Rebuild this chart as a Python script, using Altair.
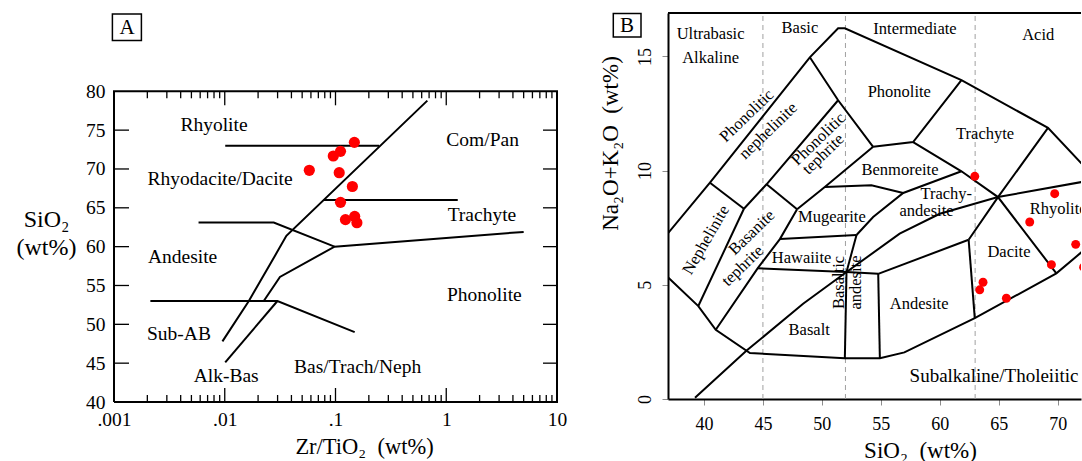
import altair as alt
import pandas as pd

FONT = "Liberation Serif"

# ------------------------------------------------------------------
# Panel A : SiO2 vs Zr/TiO2 (Winchester & Floyd)
# ------------------------------------------------------------------
A_X_TICKS = [0.001, 0.01, 0.1, 1, 10]
A_X_TICK_LABELS = [".001", ".01", ".1", "1", "10"]
A_Y_TICKS = [40, 45, 50, 55, 60, 65, 70, 75, 80]
A_Y_INNER_TICKS = [45, 50, 55, 60, 65, 70, 75]
A_X_MAJOR_INNER = [0.01, 0.1, 1]
A_X_MINOR = [m * 10 ** k for k in (-3, -2, -1, 0) for m in range(2, 10)]

A_PTS_ZR = [0.0580, 0.0955, 0.111, 0.148, 0.108, 0.142, 0.111, 0.123, 0.149, 0.156]
A_PTS_SIO2 = [69.83, 71.67, 72.27, 73.43, 69.52, 67.74, 65.70, 63.48, 63.90, 63.08]

A_MAIN_X = [0.00953, 0.0165, 0.0297, 0.036, 0.675]
A_MAIN_Y = [47.8, 53.0, 59.3, 61.4, 78.8]
A_ALKBAS_X = [0.0101, 0.0299]
A_ALKBAS_Y = [45.1, 53.0]
A_BAS53_X = [0.00213, 0.0299, 0.149]
A_BAS53_Y = [53.0, 53.0, 49.0]
A_TRANS_X = [0.0225, 0.0315, 0.098, 5.0]
A_TRANS_Y = [53.0, 56.1, 60.0, 61.9]
A_AND_X = [0.0058, 0.0277, 0.098]
A_AND_Y = [63.1, 63.1, 60.0]
A_TRACH_X = [0.0783, 1.27]
A_TRACH_Y = [66.0, 66.0]
A_RHY_X = [0.0101, 0.248]
A_RHY_Y = [73.0, 73.0]

A_LABELS = ["Rhyolite", "Rhyodacite/Dacite", "Com/Pan", "Trachyte", "Andesite",
            "Phonolite", "Sub-AB", "Alk-Bas", "Bas/Trach/Neph"]
A_LABEL_X = [0.0080, 0.00908, 2.13, 2.10, 0.00416, 2.21, 0.00386, 0.0103, 0.1585]
A_LABEL_Y = [75.67, 68.67, 73.69, 64.08, 58.67, 53.78, 48.8, 43.35, 44.5]

# ------------------------------------------------------------------
# Panel B : TAS diagram
# ------------------------------------------------------------------
B_X_TICKS = [40, 45, 50, 55, 60, 65, 70]
B_Y_TICKS = [0, 5, 10, 15]
B_DASH_X = [45, 52, 63]

B_PTS_SIO2 = [62.97, 69.75, 67.63, 71.53, 69.47, 72.2, 63.67, 63.39, 65.65]
B_PTS_ALK = [9.75, 8.99, 7.75, 6.77, 5.88, 5.77, 5.11, 4.78, 4.41]

B_OUT_TOP_X = [36.92, 40.51, 48.98, 51.38, 51.95, 61.84, 69.18, 72.03]
B_OUT_TOP_Y = [7.24, 9.47, 14.96, 16.23, 16.23, 13.96, 11.87, 10.31]
B_OUT_BOT_X = [36.92, 39.52, 41.0, 43.9, 51.95, 54.92, 57.0, 62.97, 69.89, 72.03]
B_OUT_BOT_Y = [5.34, 4.07, 3.03, 2.01, 1.78, 1.78, 2.04, 3.54, 5.50, 6.43]
B_NEPH_TOP_X = [40.51, 43.39]
B_NEPH_TOP_Y = [9.47, 8.33]
B_NEPH_BAS_X = [43.39, 39.52]
B_NEPH_BAS_Y = [8.33, 4.07]
B_PHN_PHT_X = [43.39, 45.31, 51.38]
B_PHN_PHT_Y = [8.33, 9.40, 13.08]
B_PHON_L_X = [48.98, 51.38, 54.35]
B_PHON_L_Y = [14.96, 13.08, 11.04]
B_BTEPH_TOP_X = [45.31, 47.9]
B_BTEPH_TOP_Y = [9.40, 8.31]
B_BAS_R_X = [47.9, 46.44, 44.55, 41.0]
B_BAS_R_Y = [8.31, 7.0, 5.72, 3.03]
B_MUG_L_X = [47.9, 50.25, 54.35]
B_MUG_L_Y = [8.31, 9.28, 11.04]
B_MUG_TOP_X = [50.25, 54.2, 56.9]
B_MUG_TOP_Y = [9.28, 9.36, 9.02]
B_HAW_TOP_X = [46.44, 52.94]
B_HAW_TOP_Y = [7.0, 7.18]
B_HAW_BOT_X = [44.55, 52.09, 54.78]
B_HAW_BOT_Y = [5.72, 5.56, 5.48]
B_MUG_R_X = [52.94, 52.09]
B_MUG_R_Y = [7.18, 5.56]
B_BAND_L_X = [52.09, 51.95]
B_BAND_L_Y = [5.56, 1.78]
B_AND_L_X = [54.78, 54.92]
B_AND_L_Y = [5.48, 1.78]
B_BENM_BOT_X = [52.94, 54.35, 56.9, 61.84]
B_BENM_BOT_Y = [7.18, 7.97, 9.02, 9.97]
B_TRACHY_BOT_X = [57.74, 61.84, 64.94, 69.89]
B_TRACHY_BOT_Y = [11.25, 9.97, 8.84, 5.50]
B_PHON_BOT_X = [54.35, 57.74, 61.84]
B_PHON_BOT_Y = [11.04, 11.25, 13.96]
B_DAC_TRA_X = [62.45, 64.94, 69.18]
B_DAC_TRA_Y = [6.97, 8.84, 11.87]
B_AND_TOP_X = [54.78, 62.45]
B_AND_TOP_Y = [5.48, 6.97]
B_DAC_L_X = [62.45, 62.97]
B_DAC_L_Y = [6.97, 3.54]
B_ALK_X = [39.24, 43.62, 48.41, 52.09, 56.6, 60.0, 64.94, 72.03]
B_ALK_Y = [0.05, 2.12, 4.17, 5.56, 7.24, 8.11, 8.84, 9.50]

B_LAB_H = ["Ultrabasic", "Alkaline", "Basic", "Intermediate", "Acid", "Phonolite",
           "Trachyte", "Benmoreite", "Trachy-", "andesite", "Mugearite", "Hawaiite",
           "Basalt", "Andesite", "Dacite"]
B_LAB_H_X = [40.56, 40.56, 48.14, 57.9, 68.35, 56.57, 63.85, 56.63, 60.55, 58.88,
             50.85, 48.28, 48.93, 58.25, 65.87]
B_LAB_H_Y = [15.96, 14.94, 16.24, 16.22, 15.94, 13.44, 11.62, 10.03, 8.98, 8.24,
             7.96, 6.19, 3.02, 4.17, 6.45]
B_LAB_LEFT = ["Rhyolite"]
B_LAB_LEFT_X = [67.63]
B_LAB_LEFT_Y = [8.33]
B_LAB_BIG = ["Subalkaline/Tholeiitic"]
B_LAB_BIG_X = [64.6]
B_LAB_BIG_Y = [1.02]
B_LAB_D45 = ["Phonolitic", "nephelinite", "Phonolitic", "tephrite", "Basanite", "tephrite"]
B_LAB_D45_X = [43.62, 45.45, 49.7, 50.12, 44.05, 43.28]
B_LAB_D45_Y = [12.4, 11.74, 11.38, 10.72, 7.29, 5.83]
B_LAB_D60 = ["Nephelinite"]
B_LAB_D60_X = [40.17]
B_LAB_D60_Y = [6.96]
B_LAB_V = ["Basaltic", "andesite"]
B_LAB_V_X = [51.48, 52.9]
B_LAB_V_Y = [5.1, 5.1]

# ------------------------------------------------------------------
# Layout constants
# ------------------------------------------------------------------
A_W, A_H = 443, 389
A_YMAX = 90.08
B_W, B_H = 413, 386
B_XDOM = [36.95, 71.98]
B_YDOM = [0, 16.9]

A_PX_Y = A_H / (A_YMAX - 40.0)
A_PX_DEC = A_W / 4.0


def poly(lines):
    rows = []
    for name, xs, ys in lines:
        for i, (x, y) in enumerate(zip(xs, ys)):
            rows.append({"seg": name, "ord": i, "x": x, "y": y})
    return pd.DataFrame(rows)


def labels_df(names, xs, ys):
    return pd.DataFrame({"label": names, "x": xs, "y": ys})


ONE = pd.DataFrame({"a": [0]})

# ------------------------------------------------------------------
# Panel A chart
# ------------------------------------------------------------------
label_expr = " : ".join(
    [f"datum.value < {v * 3.1623:.6g} ? '{t}'" for v, t in zip(A_X_TICKS[:-1], A_X_TICK_LABELS[:-1])]
) + f" : '{A_X_TICK_LABELS[-1]}'"

A_XSCALE = alt.Scale(type="log", domain=[0.001, 10], nice=False)
A_YSCALE = alt.Scale(domain=[40, A_YMAX], nice=False, zero=False)
A_XAXIS = alt.Axis(values=A_X_TICKS, labelExpr=label_expr, ticks=False, tickSize=0,
                   domain=False, grid=False, labelFont=FONT, labelFontSize=19.5,
                   labelPadding=8, labelColor="black", labelFlush=False, labelOverlap=False,
                   title="Zr/TiO\u2082\u00a0 (wt%)", titleFont=FONT, titleFontSize=22.5,
                   titleFontWeight="normal", titleColor="black", titleX=250, titleY=51,
                   titleAlign="center", titleBaseline="alphabetic")
A_YAXIS = alt.Axis(values=A_Y_TICKS, ticks=False, tickSize=0, domain=False, grid=False,
                   labelFont=FONT, labelFontSize=19.5, labelPadding=9, labelColor="black",
                   labelFlush=False, labelOverlap=False,
                   title=["SiO\u2082", "(wt%)"], titleFont=FONT, titleFontSize=24,
                   titleFontWeight="normal", titleColor="black", titleAngle=0,
                   titleX=-68, titleY=213, titleAlign="center", titleBaseline="alphabetic",
                   titleLineHeight=28)

xA = alt.X("x:Q", scale=A_XSCALE, axis=A_XAXIS)
yA = alt.Y("y:Q", scale=A_YSCALE, axis=A_YAXIS)

x_lo, x_hi = A_X_TICKS[0], A_X_TICKS[-1]
y_lo, y_hi = A_Y_TICKS[0], A_Y_TICKS[-1]
a_lines_df = poly([
    ("main", A_MAIN_X, A_MAIN_Y), ("alkbas", A_ALKBAS_X, A_ALKBAS_Y),
    ("bas53", A_BAS53_X, A_BAS53_Y), ("trans", A_TRANS_X, A_TRANS_Y),
    ("and", A_AND_X, A_AND_Y), ("trach", A_TRACH_X, A_TRACH_Y), ("rhy", A_RHY_X, A_RHY_Y),
])
a_lines = alt.Chart(a_lines_df).mark_line(color="black", strokeWidth=2).encode(
    x=xA, y=yA, detail="seg:N", order="ord:Q")

# frame: a closed polyline through the four corners of the data box
a_frame_df = poly([("frame", [x_lo, x_hi, x_hi, x_lo, x_lo], [y_lo, y_lo, y_hi, y_hi, y_lo])])
a_frame = alt.Chart(a_frame_df).mark_line(color="black", strokeWidth=2, strokeJoin="miter").encode(
    x=xA, y=yA, detail="seg:N", order="ord:Q")

MAJ, MIN, LEFT_LEN, RIGHT_LEN = 14, 7, 15, 14
tick_lines = []
k = 0
for v in A_X_MAJOR_INNER:
    tick_lines.append((f"t{k}", [v, v], [y_lo, y_lo + MAJ / A_PX_Y])); k += 1
    tick_lines.append((f"t{k}", [v, v], [y_hi, y_hi - MAJ / A_PX_Y])); k += 1
for v in A_X_MINOR:
    tick_lines.append((f"t{k}", [v, v], [y_lo, y_lo + MIN / A_PX_Y])); k += 1
    tick_lines.append((f"t{k}", [v, v], [y_hi, y_hi - MIN / A_PX_Y])); k += 1
for v in A_Y_INNER_TICKS:
    tick_lines.append((f"t{k}", [x_lo, x_lo * 10 ** (LEFT_LEN / A_PX_DEC)], [v, v])); k += 1
    tick_lines.append((f"t{k}", [x_hi, x_hi / 10 ** (RIGHT_LEN / A_PX_DEC)], [v, v])); k += 1
a_ticks = alt.Chart(poly(tick_lines)).mark_line(color="black", strokeWidth=1.3).encode(
    x=xA, y=yA, detail="seg:N", order="ord:Q")

a_pts = alt.Chart(pd.DataFrame({"x": A_PTS_ZR, "y": A_PTS_SIO2})).mark_circle(
    size=125, color="#ff0000", opacity=1).encode(x=xA, y=yA)

a_text = alt.Chart(labels_df(A_LABELS, A_LABEL_X, A_LABEL_Y)).mark_text(
    font=FONT, fontSize=19.5, color="black", align="center", baseline="middle").encode(
    x=xA, y=yA, text="label:N")

a_box = alt.Chart(ONE).mark_rect(filled=False, stroke="black", strokeWidth=1.5).encode(
    x=alt.value(-1.6), x2=alt.value(27.4), y=alt.value(1), y2=alt.value(27.6))
a_letter = alt.Chart(ONE).mark_text(text="A", font=FONT, fontSize=21, color="black",
                                    align="center", baseline="middle").encode(
    x=alt.value(13.1), y=alt.value(14.6))
a_anchor = alt.Chart(ONE).mark_text(text=" ", fontSize=1).encode(
    x=alt.value(-114), y=alt.value(200))
a_anchor2 = alt.Chart(ONE).mark_text(text=" ", fontSize=1).encode(
    x=alt.value(470), y=alt.value(200))

panelA = alt.layer(a_lines, a_frame, a_ticks, a_text, a_pts,
                   a_box, a_letter, a_anchor, a_anchor2).properties(width=A_W, height=A_H)

# ------------------------------------------------------------------
# Panel B chart
# ------------------------------------------------------------------
B_XSCALE = alt.Scale(domain=B_XDOM, nice=False, zero=False)
B_YSCALE = alt.Scale(domain=B_YDOM, nice=False, zero=False)
B_XAXIS = alt.Axis(values=B_X_TICKS, ticks=True, tickSize=6, tickColor="#8c8c8c", tickWidth=1,
                   domain=True, domainColor="black", domainWidth=2, grid=False,
                   labelFont=FONT, labelFontSize=18, labelPadding=10.5, labelColor="black",
                   labelFlush=False, labelOverlap=False,
                   title="SiO\u2082\u00a0 (wt%)", titleFont=FONT, titleFontSize=23,
                   titleFontWeight="normal", titleColor="black", titleX=252, titleY=58,
                   titleAlign="center", titleBaseline="alphabetic")
B_YAXIS = alt.Axis(values=B_Y_TICKS, ticks=True, tickSize=6, tickColor="#8c8c8c", tickWidth=1,
                   domain=True, domainColor="black", domainWidth=2, grid=False,
                   labelFont=FONT, labelFontSize=18, labelPadding=11.7, labelColor="black",
                   labelAngle=270, labelAlign="center", labelBaseline="alphabetic",
                   labelFlush=False, labelOverlap=False,
                   title="Na\u2082O+K\u2082O\u00a0 (wt%)", titleFont=FONT, titleFontSize=23,
                   titleFontWeight="normal", titleColor="black", titleAngle=270,
                   titleX=-51, titleY=130, titleAlign="center", titleBaseline="alphabetic")

xB = alt.X("x:Q", scale=B_XSCALE, axis=B_XAXIS)
yB = alt.Y("y:Q", scale=B_YSCALE, axis=B_YAXIS)

b_lines_df = poly([
    ("outtop", B_OUT_TOP_X, B_OUT_TOP_Y), ("outbot", B_OUT_BOT_X, B_OUT_BOT_Y),
    ("nephtop", B_NEPH_TOP_X, B_NEPH_TOP_Y), ("nephbas", B_NEPH_BAS_X, B_NEPH_BAS_Y),
    ("phnpht", B_PHN_PHT_X, B_PHN_PHT_Y), ("phonl", B_PHON_L_X, B_PHON_L_Y),
    ("btephtop", B_BTEPH_TOP_X, B_BTEPH_TOP_Y), ("basr", B_BAS_R_X, B_BAS_R_Y),
    ("mugl", B_MUG_L_X, B_MUG_L_Y), ("mugtop", B_MUG_TOP_X, B_MUG_TOP_Y),
    ("hawtop", B_HAW_TOP_X, B_HAW_TOP_Y), ("hawbot", B_HAW_BOT_X, B_HAW_BOT_Y),
    ("mugr", B_MUG_R_X, B_MUG_R_Y), ("bandl", B_BAND_L_X, B_BAND_L_Y),
    ("andl", B_AND_L_X, B_AND_L_Y), ("benmbot", B_BENM_BOT_X, B_BENM_BOT_Y),
    ("trachybot", B_TRACHY_BOT_X, B_TRACHY_BOT_Y), ("phonbot", B_PHON_BOT_X, B_PHON_BOT_Y),
    ("dactra", B_DAC_TRA_X, B_DAC_TRA_Y), ("andtop", B_AND_TOP_X, B_AND_TOP_Y),
    ("dacl", B_DAC_L_X, B_DAC_L_Y), ("alk", B_ALK_X, B_ALK_Y),
])
b_lines = alt.Chart(b_lines_df).mark_line(color="black", strokeWidth=2, clip=True).encode(
    x=xB, y=yB, detail="seg:N", order="ord:Q")

b_dash = alt.Chart(pd.DataFrame({"x": B_DASH_X, "y": [B_YDOM[0]] * 3,
                                 "y2": [B_YDOM[1]] * 3})).mark_rule(
    color="#a0a0a0", strokeWidth=1, strokeDash=[5, 4]).encode(x=xB, y=yB, y2="y2:Q")

b_top = alt.Chart(pd.DataFrame({"x": [B_XDOM[0]], "x2": [B_XDOM[1]], "y": [B_YDOM[1]]})).mark_rule(
    color="black", strokeWidth=2).encode(x=xB, x2="x2:Q", y=yB)

b_pts = alt.Chart(pd.DataFrame({"x": B_PTS_SIO2, "y": B_PTS_ALK})).mark_circle(
    size=80, color="#ff0000", opacity=1, clip=True).encode(x=xB, y=yB)


def b_text(names, xs, ys, angle=0, size=16.5, align="center"):
    return alt.Chart(labels_df(names, xs, ys)).mark_text(
        font=FONT, fontSize=size, color="black", align=align, baseline="middle",
        angle=angle, clip=True).encode(x=xB, y=yB, text="label:N")


b_t1 = b_text(B_LAB_H, B_LAB_H_X, B_LAB_H_Y)
b_t2 = b_text(B_LAB_LEFT, B_LAB_LEFT_X, B_LAB_LEFT_Y, align="left")
b_t3 = b_text(B_LAB_BIG, B_LAB_BIG_X, B_LAB_BIG_Y, size=19)
b_t4 = b_text(B_LAB_D45, B_LAB_D45_X, B_LAB_D45_Y, angle=316)
b_t5 = b_text(B_LAB_D60, B_LAB_D60_X, B_LAB_D60_Y, angle=300)
b_t6 = b_text(B_LAB_V, B_LAB_V_X, B_LAB_V_Y, angle=270)

b_box = alt.Chart(ONE).mark_rect(filled=False, stroke="black", strokeWidth=1.5).encode(
    x=alt.value(-54.7), x2=alt.value(-27), y=alt.value(0.5), y2=alt.value(24))
b_letter = alt.Chart(ONE).mark_text(text="B", font=FONT, fontSize=21, color="black",
                                    align="center", baseline="middle").encode(
    x=alt.value(-41), y=alt.value(12.8))
b_anchor = alt.Chart(ONE).mark_text(text=" ", fontSize=1).encode(
    x=alt.value(-80), y=alt.value(200))

panelB = alt.layer(b_dash, b_lines, b_top, b_t1, b_t2, b_t3, b_t4, b_t5, b_t6, b_pts,
                   b_box, b_letter, b_anchor).properties(width=B_W, height=B_H)

chart = alt.hconcat(panelA, panelB, spacing=4).properties(
    padding={"left": 0, "top": 12, "right": 0, "bottom": 0},
    background="white",
).configure_view(strokeWidth=0, stroke="transparent")

chart.save("out.html", embed_options={"renderer": "svg", "actions": False})
